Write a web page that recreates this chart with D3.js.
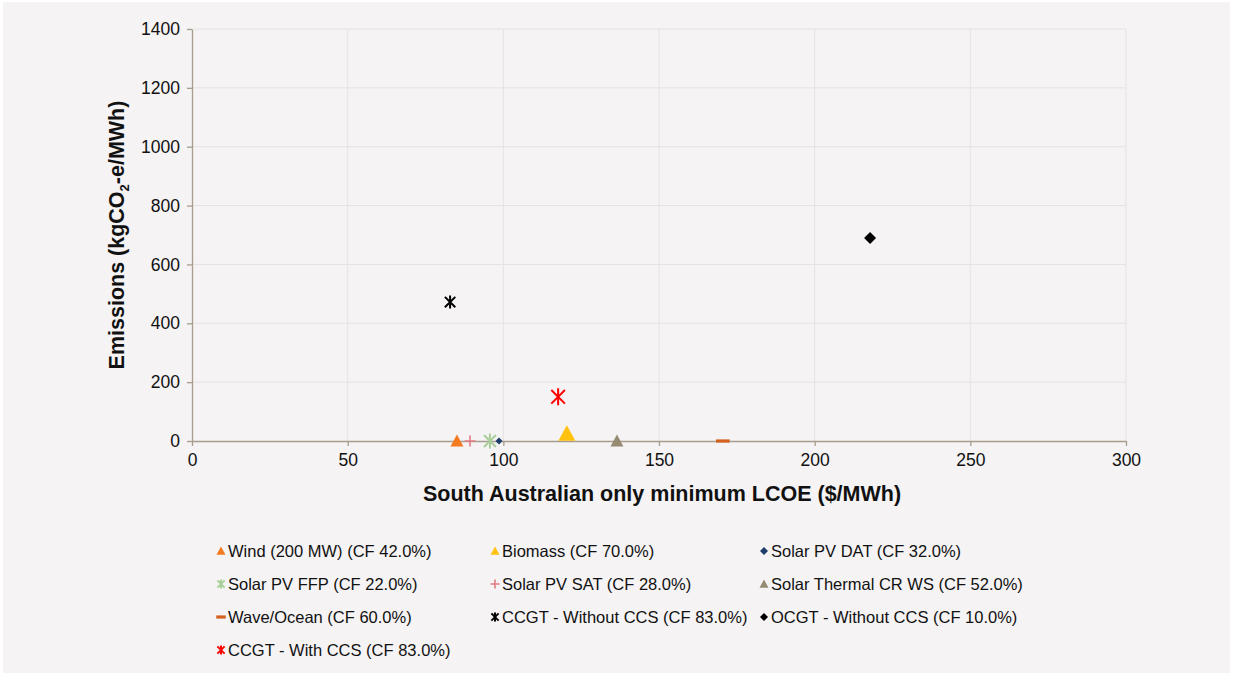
<!DOCTYPE html>
<html>
<head>
<meta charset="utf-8">
<script src="https://cdn.jsdelivr.net/npm/d3@7"></script>
<style>
  html, body { margin: 0; padding: 0; background: #ffffff; }
  svg { display: block; font-family: "Liberation Sans", Arial, sans-serif; }
</style>
</head>
<body>
<svg id="chart" width="1233" height="675"></svg>
<script>
// Technologies: levelised cost (x, $/MWh) against emissions intensity (y, kgCO2-e/MWh)
const seriesNames = [
  "Wind (200 MW) (CF 42.0%)",
  "Biomass (CF 70.0%)",
  "Solar PV DAT (CF 32.0%)",
  "Solar PV FFP (CF 22.0%)",
  "Solar PV SAT (CF 28.0%)",
  "Solar Thermal CR WS (CF 52.0%)",
  "Wave/Ocean (CF 60.0%)",
  "CCGT - Without CCS (CF 83.0%)",
  "OCGT - Without CCS (CF 10.0%)",
  "CCGT - With CCS (CF 83.0%)"
];
const lcoeValues     = [85.1, 120.4, 98.6, 95.7, 89.3, 136.5, 170.5, 82.9, 217.8, 117.6];
const emissionValues = [0, 25, 0, 0, 0, 0, 0, 472, 690, 150];
const seriesColors   = ["#f47b20", "#ffc20e", "#1f3d6b", "#a8cf9a", "#e27c84", "#968a73", "#d4601e", "#000000", "#000000", "#ff0000"];
const seriesShapes   = ["triangle", "triangle", "diamond", "asterisk", "plus", "triangle", "dash", "asterisk", "diamond", "asterisk"];
const plotSizes      = [13, 17, 7, 15, 11, 13, 13, 13, 12, 17];
const xTicks = [0, 50, 100, 150, 200, 250, 300];
const yTicks = [0, 200, 400, 600, 800, 1000, 1200, 1400];

const svg = d3.select("#chart");
const W = 1233, H = 675;
const margin = { left: 192, right: W - 1126, top: 29, bottom: H - 441 };

// Chart panel
svg.append("rect").attr("x", 3).attr("y", 2).attr("width", W - 6).attr("height", H - 4).attr("fill", "#f5f3f4");

const x = d3.scaleLinear().domain([0, 300]).range([margin.left, W - margin.right]);
const y = d3.scaleLinear().domain([0, 1400]).range([H - margin.bottom, margin.top]);

const axisColor = "#a89d8c";
const gridColor = "#e6e2e3";

// Gridlines
const grid = svg.append("g");
grid.selectAll("line.h").data(yTicks.filter(d => d > 0)).join("line")
  .attr("x1", x(0)).attr("x2", x(300)).attr("y1", d => y(d)).attr("y2", d => y(d))
  .attr("stroke", gridColor).attr("stroke-width", 1);
grid.selectAll("line.v").data(xTicks.filter(d => d > 0)).join("line")
  .attr("y1", y(0)).attr("y2", y(1400)).attr("x1", d => x(d)).attr("x2", d => x(d))
  .attr("stroke", gridColor).attr("stroke-width", 1);

// Axes
const xAxis = svg.append("g").attr("transform", `translate(0,${y(0)})`)
  .call(d3.axisBottom(x).tickValues(xTicks).tickFormat(d3.format("d")).tickSize(5).tickPadding(6).tickSizeOuter(0));
const yAxis = svg.append("g").attr("transform", `translate(${x(0)},0)`)
  .call(d3.axisLeft(y).tickValues(yTicks).tickFormat(d3.format("d")).tickSize(5).tickPadding(7).tickSizeOuter(0));
[xAxis, yAxis].forEach(a => {
  a.select(".domain").attr("stroke", axisColor).attr("stroke-width", 1.3);
  a.selectAll(".tick line").attr("stroke", axisColor).attr("stroke-width", 1.3);
  a.selectAll(".tick text").attr("fill", "#111").style("font-size", "17.5px")
    .style("font-family", "'Liberation Sans', Arial, sans-serif");
});
xAxis.selectAll(".tick text").attr("dy", "0.8em");

// Axis titles
svg.append("text").attr("x", (x(0) + x(300)) / 2 + 3).attr("y", 501)
  .attr("text-anchor", "middle").attr("font-size", 21.5).attr("font-weight", "bold").attr("fill", "#111")
  .text("South Australian only minimum LCOE ($/MWh)");
const yt = svg.append("text").attr("transform", `translate(124,${(y(0) + y(1400)) / 2}) rotate(-90)`)
  .attr("text-anchor", "middle").attr("font-size", 21.5).attr("font-weight", "bold").attr("fill", "#111");
yt.append("tspan").text("Emissions (kgCO");
yt.append("tspan").attr("font-size", 13).attr("dy", 5).text("2");
yt.append("tspan").attr("dy", -5).text("-e/MWh)");

// Marker drawing
function drawMarker(g, shape, color, s) {
  const h = s / 2;
  if (shape === "triangle") {
    g.append("path").attr("d", `M0,${-h}L${h},${h * 0.85}L${-h},${h * 0.85}Z`).attr("fill", color);
  } else if (shape === "diamond") {
    g.append("path").attr("d", `M0,${-h}L${h},0L0,${h}L${-h},0Z`).attr("fill", color);
  } else if (shape === "plus") {
    g.append("path").attr("d", `M${-h},0H${h}M0,${-h}V${h}`).attr("stroke", color).attr("stroke-width", 1.6);
  } else if (shape === "dash") {
    g.append("rect").attr("x", -h * 1.05).attr("y", -1.6).attr("width", h * 2.1).attr("height", 3.2).attr("fill", color);
  } else if (shape === "asterisk") {
    const a = h * 0.8;
    g.append("path")
      .attr("d", `M${-a},${-a}L${a},${a}M${-a},${a}L${a},${-a}M0,${-h}V${h}`)
      .attr("stroke", color).attr("stroke-width", 2);
  }
}

// Points
const pts = svg.append("g");
seriesNames.forEach((name, i) => {
  const g = pts.append("g").attr("transform", `translate(${x(lcoeValues[i])},${y(emissionValues[i])})`);
  drawMarker(g, seriesShapes[i], seriesColors[i], plotSizes[i]);
});

// Legend
const colX = [221, 495, 764];
const rowY = [551, 584, 617, 650];
const legend = svg.append("g");
seriesNames.forEach((name, i) => {
  const cx = colX[i % 3], cy = rowY[Math.floor(i / 3)];
  const g = legend.append("g").attr("transform", `translate(${cx},${cy})`);
  const ls = seriesShapes[i] === "diamond" ? 8 : 9;
  drawMarker(g, seriesShapes[i], seriesColors[i], ls);
  legend.append("text").attr("x", cx + 7).attr("y", cy + 6)
    .attr("font-size", 16.5).attr("fill", "#111").text(name);
});
</script>
</body>
</html>
